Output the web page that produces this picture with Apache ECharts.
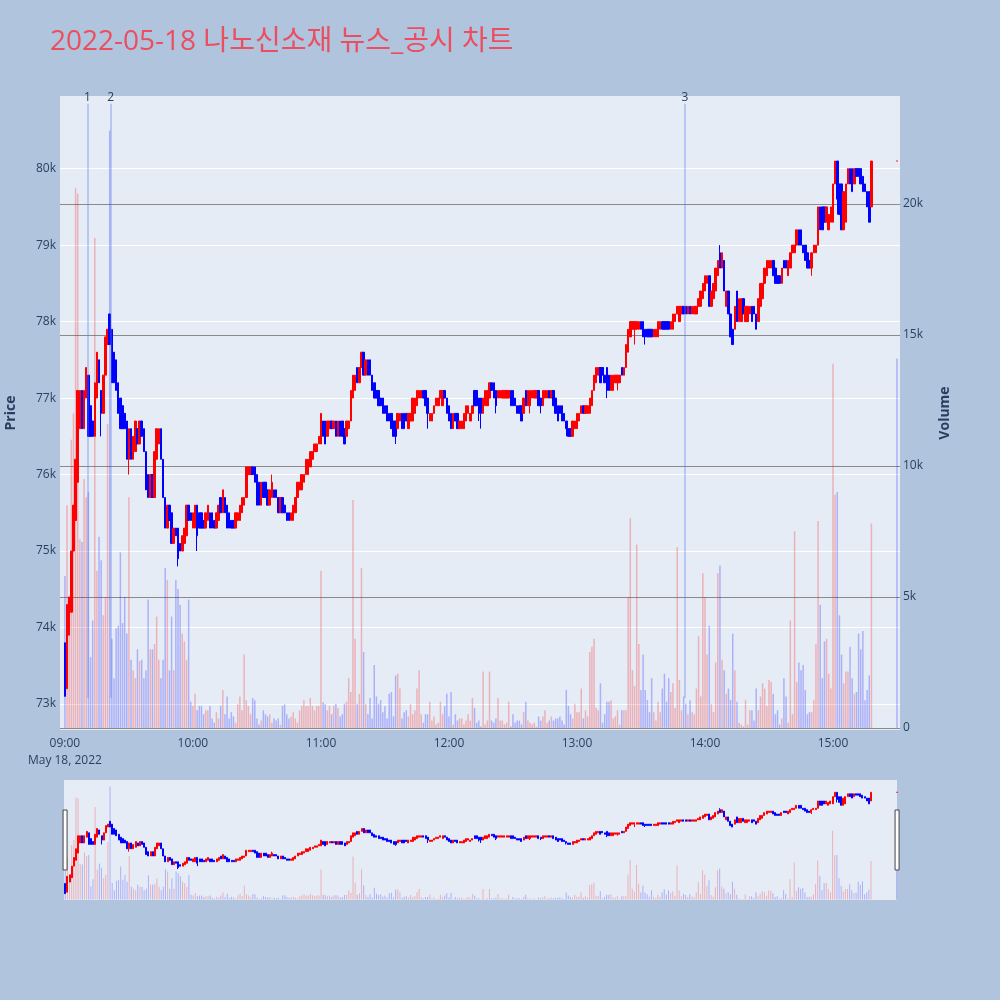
<!DOCTYPE html>
<html><head><meta charset="utf-8">
<script src="https://cdn.jsdelivr.net/npm/echarts@6/dist/echarts.min.js"></script>
<style>html,body{margin:0;padding:0;background:#B0C4DE;}#c{width:1000px;height:1000px;}</style>
</head><body><div id="c"></div>
<script>
// ---- data (prices in hundreds of KRW, one candle per minute from 09:00, last = 15:30 close auction) ----
const OPEN = [
738,732,739,742,750,754,759,766,771,766,770,773,769,767,765,770,775,771,768,773,777,781,779,776,775,772,770,769,768,767,762,766,762,763,766,764,767,766,763,760,757,760,757,762,764,766,762,757,753,756,755,751,753,753,751,750,751,752,756,755,753,753,756,755,
755,754,753,754,755,755,754,753,754,757,755,757,756,755,754,754,753,754,754,755,756,757,760,760,761,761,760,759,756,759,759,758,756,757,758,758,757,755,757,756,755,755,754,754,755,757,758,758,759,760,760,761,762,763,763,764,764,767,767,765,766,767,766,
767,765,767,767,766,765,766,767,770,771,774,772,774,776,773,775,775,773,772,771,771,770,770,769,769,768,768,767,767,766,767,768,768,768,766,767,767,768,769,770,770,771,771,770,767,767,768,769,769,770,769,771,770,769,768,766,768,768,766,766,766,767,768,
767,768,771,771,770,770,768,769,769,770,772,772,771,770,770,770,770,770,770,771,771,770,769,769,769,768,771,769,769,770,770,770,771,770,769,770,770,771,770,771,770,769,769,769,768,767,766,766,765,766,766,767,768,769,768,768,768,769,771,772,773,774,774,773,
774,773,771,771,772,772,772,774,773,774,776,778,779,779,779,779,780,780,779,779,779,779,778,778,778,779,780,780,780,780,779,779,780,781,780,781,782,782,781,782,781,781,781,782,782,783,784,785,786,782,783,784,786,789,787,788,782,784,781,779,779,784,780,
780,783,780,780,781,782,782,781,780,782,783,785,786,787,787,788,787,786,786,785,788,788,786,787,789,789,790,792,792,790,790,789,788,787,789,789,790,795,795,795,793,792,793,793,798,801,798,798,792,793,798,800,800,798,800,800,800,799,798,797,797,795,
801];
const CLOSE = [
731,743,744,750,756,762,771,771,766,771,774,765,765,765,772,776,772,768,773,778,779,777,772,772,771,768,766,766,766,762,766,762,765,767,764,767,765,763,758,757,760,757,763,766,766,762,757,753,756,754,751,753,752,749,750,752,753,756,754,754,755,756,752,753,
753,753,755,756,753,753,753,755,756,755,758,755,753,753,753,753,755,755,756,757,757,761,761,761,760,759,756,756,759,757,757,756,758,759,757,757,755,757,755,755,754,754,755,756,757,759,759,760,760,762,762,763,763,764,764,765,768,765,764,767,767,766,767,
765,767,765,765,764,767,767,771,773,773,772,774,776,773,775,773,773,771,770,770,769,769,768,768,767,767,766,765,765,768,768,766,766,767,768,768,770,770,771,771,771,770,769,768,768,768,769,770,770,771,771,770,768,767,766,768,767,766,767,767,768,769,769,
768,769,769,769,768,768,770,771,771,772,771,770,769,771,771,771,771,771,771,769,769,769,768,768,767,770,769,771,771,771,771,771,769,769,771,771,771,770,771,769,768,767,768,767,767,766,765,765,767,767,768,768,769,768,769,769,770,771,773,774,774,772,773,772,
771,771,773,773,773,773,773,773,774,777,779,780,780,780,780,780,779,778,778,778,778,778,779,779,780,780,779,779,779,779,780,781,781,782,782,782,781,781,782,781,782,782,782,783,784,785,786,786,782,784,785,787,788,787,789,784,784,781,778,777,782,780,783,
783,781,782,782,782,780,781,779,783,785,785,787,788,788,788,786,785,785,785,787,787,787,788,789,790,790,792,790,790,789,788,787,787,789,790,790,795,792,792,793,795,794,795,798,801,796,794,792,797,798,800,798,797,800,799,799,798,797,797,795,793,801,
801];
// visible wicks beyond the body (index -> price in hundreds)
const WICK_LOW = {17:765,30:760,53:748,62:750,155:764,170:766,194:767,195:766,202:768,218:768,223:768,235:765,254:770,259:771,267:777,272:777,350:786,362:794};
const WICK_HIGH = {97:760,307:790};
// volume in thousands of shares
const VOLUME_K = [
5.8,8.5,4.7,11.0,12.0,20.6,20.4,7.2,7.1,9.5,8.8,9.0,2.7,4.1,18.7,6.0,7.3,6.4,4.3,5.0,11.6,22.8,3.4,1.9,3.8,3.9,6.7,4.0,5.0,3.6,8.8,2.6,2.2,1.9,3.0,2.55,2.6,1.9,2.2,4.9,3.0,3.0,3.2,4.25,2.6,1.9,2.6,6.1,5.65,2.2,4.25,2.2,5.65,5.3,4.7,3.6,3.3,2.6,4.9,1.0,0.84,1.3,0.67,0.84,
0.84,0.52,0.67,0.67,0.84,0.36,0.2,0.6,0.36,0.84,1.45,0.52,1.2,0.36,0.6,0.44,0.2,0.9,1.2,0.67,2.8,1.06,0.84,0.52,1.14,1.06,0.36,0.13,0.28,0.67,0.52,0.44,0.52,0.2,0.36,0.28,0.36,0.13,0.84,0.9,0.52,0.36,0.44,0.6,0.36,0.2,0.67,0.84,1.06,0.84,0.84,1.14,0.84,0.67,0.84,0.84,6.0,0.98,0.9,0.67,0.84,0.52,0.84,
0.92,0.76,0.44,0.52,0.92,1.0,1.9,1.37,8.7,3.4,0.92,1.3,6.1,2.9,0.92,0.52,1.14,0.36,2.4,1.2,0.92,1.06,0.6,0.84,0.36,1.3,1.37,0.44,2.0,2.07,1.5,0.36,0.6,0.67,0.44,0.92,0.52,0.67,1.5,2.2,0.52,0.2,0.52,0.52,1.0,0.28,0.44,0.13,0.2,1.0,0.52,0.84,1.3,0.44,1.37,0.13,0.52,0.28,0.36,0.36,0.13,0.28,0.52,
0.28,1.14,0.76,0.2,0.28,0.05,2.15,0.13,0.28,2.15,0.28,0.2,0.36,1.14,0.28,0.28,0.13,0.2,1.0,0.05,0.52,0.2,0.28,0.28,0.13,0.6,1.0,0.28,0.2,0.13,0.2,0.05,0.44,0.28,0.44,0.67,0.2,0.28,0.44,0.28,0.36,0.36,0.44,0.28,0.13,1.45,0.84,0.52,0.36,0.92,0.6,0.6,1.5,0.36,0.67,0.44,2.9,3.1,3.4,0.76,0.67,1.7,0.2,0.52,
1.0,1.0,1.06,0.36,0.44,0.67,0.13,0.67,0.67,0.67,5.0,8.0,2.2,1.6,7.0,3.2,1.45,2.8,1.45,1.06,0.6,1.9,0.6,0.28,1.0,0.6,1.5,2.07,1.0,1.9,1.37,1.7,0.76,6.9,1.83,0.67,1.2,0.92,0.52,1.06,0.6,0.52,1.5,3.5,1.2,5.9,5.0,2.8,3.9,0.92,0.6,2.5,5.9,6.2,2.6,2.2,1.3,1.5,1.06,3.6,2.2,1.0,0.2,
0.13,0.05,1.06,0.13,0.67,0.67,0.28,1.5,0.67,1.2,1.7,1.5,0.84,1.83,1.75,1.3,0.52,0.67,0.13,0.36,1.9,1.2,0.2,4.1,0.52,7.5,1.75,2.5,2.2,2.4,1.45,0.52,0.6,0.6,1.06,3.2,7.9,4.7,1.9,3.3,3.4,2.07,1.5,13.9,8.9,9.0,4.3,2.8,1.7,2.15,2.15,3.1,1.9,1.3,1.37,3.6,3.0,3.7,1.06,1.45,2.0,7.8,
14.1];
const CLOSE_AUCTION_MINUTE = 390;           // 15:30
const TIME_TICKS = [0,60,120,180,240,300,360];
const TIME_LABELS = ['09:00','10:00','11:00','12:00','13:00','14:00','15:00'];
const DATE_LABEL = 'May 18, 2022';
const PRICE_TICKS = [73000,74000,75000,76000,77000,78000,79000,80000];
const VOLUME_TICKS = [0,5000,10000,15000,20000];
const EVENTS = [{label:'1',minute:10.6},{label:'2',minute:21.4},{label:'3',minute:290.6}];
const TITLE = '2022-05-18 나노신소재 뉴스_공시 차트';

// ---- build ----
const n = OPEN.length;
const xs = OPEN.map((_, i) => i === n - 1 ? CLOSE_AUCTION_MINUTE : i);
const candles = OPEN.map((o, i) => {
  const O = o * 100, C = CLOSE[i] * 100;
  const lo = Math.min(O, C, WICK_LOW[i] != null ? WICK_LOW[i] * 100 : Infinity);
  const hi = Math.max(O, C, WICK_HIGH[i] != null ? WICK_HIGH[i] * 100 : -Infinity);
  return [xs[i], O, C, lo, hi];
});
const RED_V = 'rgba(255,0,0,0.25)', BLUE_V = 'rgba(0,0,255,0.25)';
const vols = VOLUME_K.map((v, i) => ({value: [xs[i], v * 1000], itemStyle: {color: CLOSE[i] > OPEN[i] ? RED_V : BLUE_V}}));

const FONT = "'Open Sans', 'Noto Sans CJK KR', sans-serif";
const TXT = {color: '#2a3f5f', fontSize: 12, fontFamily: FONT};
const PMIN = 72660, PMAX = 80950, VMIN = -80, VMAX = 24120;
const candleStyle = {color: '#ff0000', color0: '#0000ff', borderColor: '#ff0000', borderColor0: '#0000ff', borderWidth: 1};

const chart = echarts.init(document.getElementById('c'), null, {renderer: 'canvas'});
chart.setOption({
  animation: false,
  backgroundColor: '#B0C4DE',
  title: {text: TITLE, left: 45, top: 23, textStyle: {color: '#EC4E60', fontSize: 28, fontWeight: 'normal', fontFamily: FONT}},
  grid: [
    {left: 60, right: 100, top: 96, bottom: 270, show: true, backgroundColor: '#E5ECF6', borderWidth: 0, containLabel: false, outerBoundsMode: 'none'},
    {left: 64, right: 103, top: 780, height: 120, show: true, backgroundColor: '#E5ECF6', borderWidth: 0, containLabel: false, outerBoundsMode: 'none'}
  ],
  xAxis: [
    {type: 'value', gridIndex: 0, min: -2.3, max: 391.4,
     axisLine: {show: false}, axisTick: {show: false, customValues: TIME_TICKS}, splitLine: {show: false},
     axisLabel: Object.assign({customValues: TIME_TICKS, margin: 5, lineHeight: 17,
       formatter: v => { const k = TIME_TICKS.indexOf(v); const t = TIME_LABELS[k] || ''; return k === 0 ? t + '\n' + DATE_LABEL : t; }}, TXT)},
    {type: 'value', gridIndex: 1, min: -0.6, max: 390.2, show: false}
  ],
  yAxis: [
    {type: 'value', gridIndex: 0, position: 'left', min: PMIN, max: PMAX,
     name: 'Price', nameLocation: 'middle', nameRotate: 90, nameGap: 42,
     nameTextStyle: {color: '#2a3f5f', fontSize: 14, fontWeight: 'bold', fontFamily: FONT},
     axisLine: {show: false}, axisTick: {show: false, customValues: PRICE_TICKS},
     axisLabel: Object.assign({customValues: PRICE_TICKS, margin: 4, formatter: v => (v / 1000) + 'k'}, TXT),
     splitLine: {show: true, lineStyle: {color: '#ffffff', width: 1}}},
    {type: 'value', gridIndex: 0, position: 'right', min: VMIN, max: VMAX,
     name: 'Volume', nameLocation: 'middle', nameRotate: 90, nameGap: 38,
     nameTextStyle: {color: '#2a3f5f', fontSize: 14, fontWeight: 'bold', fontFamily: FONT},
     axisLine: {show: false}, axisTick: {show: false, customValues: VOLUME_TICKS},
     axisLabel: Object.assign({customValues: VOLUME_TICKS, margin: 3, formatter: v => v === 0 ? '0' : (v / 1000) + 'k'}, TXT),
     splitLine: {show: true, lineStyle: {color: '#8a8a8a', width: 1}}},
    {type: 'value', gridIndex: 1, min: PMIN, max: PMAX, show: false},
    {type: 'value', gridIndex: 1, min: VMIN, max: VMAX, show: false}
  ],
  dataZoom: [{
    type: 'slider', xAxisIndex: [1], filterMode: 'none', start: 0, end: 100,
    left: 63.5, right: 102.5, top: 780, height: 120,
    backgroundColor: 'rgba(0,0,0,0)', borderColor: 'rgba(0,0,0,0)', fillerColor: 'rgba(0,0,0,0)',
    showDataShadow: false, showDetail: false, moveHandleSize: 0, brushSelect: false,
    dataBackground: {lineStyle: {opacity: 0}, areaStyle: {opacity: 0}},
    selectedDataBackground: {lineStyle: {opacity: 0}, areaStyle: {opacity: 0}},
    handleIcon: 'path://M0,0 L4,0 L4,60 L0,60 Z', handleSize: '50%',
    handleStyle: {color: '#ffffff', borderColor: '#444444', borderWidth: 1},
    emphasis: {handleStyle: {color: '#ffffff', borderColor: '#444444', borderWidth: 1}}
  }],
  series: [
    {type: 'bar', name: 'Volume', xAxisIndex: 0, yAxisIndex: 1, barWidth: 1.5, z: 1, data: vols, silent: true},
    {type: 'candlestick', name: 'Price', xAxisIndex: 0, yAxisIndex: 0, barWidth: 2, z: 2,
     encode: {x: 0, y: [1, 2, 3, 4]}, itemStyle: candleStyle, data: candles,
     markLine: {silent: true, symbol: ['none', 'none'], animation: false,
       lineStyle: {color: 'rgba(90,120,235,0.33)', width: 2, type: 'solid'},
       label: {show: true, position: 'start', distance: 0, formatter: p => p.name, color: '#2a3f5f', fontSize: 12, fontFamily: FONT},
       data: EVENTS.map(e => [{name: e.label, coord: [e.minute, 80850]}, {coord: [e.minute, 73080]}])}},
    {type: 'bar', xAxisIndex: 1, yAxisIndex: 3, barWidth: 1, z: 1, data: vols, silent: true},
    {type: 'candlestick', xAxisIndex: 1, yAxisIndex: 2, barWidth: 1.5, z: 2,
     encode: {x: 0, y: [1, 2, 3, 4]}, itemStyle: candleStyle, data: candles, silent: true}
  ]
});
</script></body></html>
